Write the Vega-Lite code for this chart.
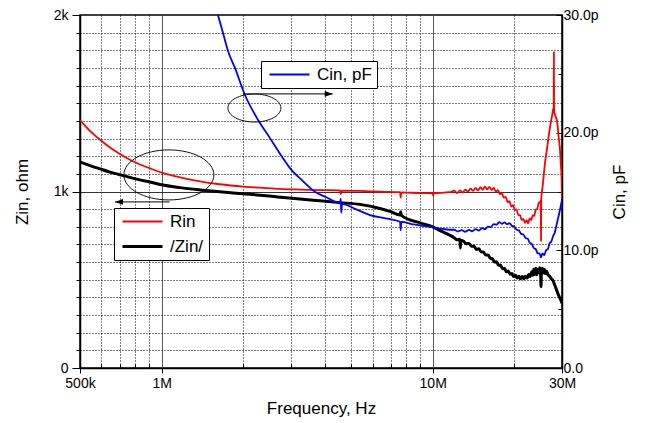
{
  "$schema": "https://vega.github.io/schema/vega-lite/v6.json",
  "width": 482,
  "height": 353,
  "autosize": {"type": "none"},
  "padding": {"left": 80, "top": 15, "right": 89, "bottom": 55},
  "background": "white",
  "config": {
    "font": "Liberation Sans",
    "view": {"stroke": "black", "strokeWidth": 1.5},
    "axis": {
      "labelFont": "Liberation Sans", "labelFontSize": 14, "labelColor": "black",
      "titleFont": "Liberation Sans", "titleFontSize": 17, "titleFontWeight": "normal", "titleColor": "black",
      "domainColor": "black", "domainWidth": 1.5, "tickColor": "black", "tickWidth": 1
    }
  },
  "datasets": {
    "z": [
      {"s": "Rin", "f": 0.5, "v": 1405}, {"s": "Rin", "f": 0.544, "v": 1344}, {"s": "Rin", "f": 0.593, "v": 1293},
      {"s": "Rin", "f": 0.645, "v": 1249}, {"s": "Rin", "f": 0.702, "v": 1212}, {"s": "Rin", "f": 0.764, "v": 1180},
      {"s": "Rin", "f": 0.832, "v": 1153}, {"s": "Rin", "f": 0.906, "v": 1131}, {"s": "Rin", "f": 1.0, "v": 1107},
      {"s": "Rin", "f": 1.17, "v": 1080}, {"s": "Rin", "f": 1.385, "v": 1058}, {"s": "Rin", "f": 1.64, "v": 1041},
      {"s": "Rin", "f": 2.0, "v": 1028}, {"s": "Rin", "f": 2.31, "v": 1022}, {"s": "Rin", "f": 2.73, "v": 1015},
      {"s": "Rin", "f": 3.24, "v": 1011}, {"s": "Rin", "f": 3.84, "v": 1008}, {"s": "Rin", "f": 4.55, "v": 1006},
      {"s": "Rin", "f": 4.58, "v": 985}, {"s": "Rin", "f": 4.62, "v": 1005}, {"s": "Rin", "f": 5.39, "v": 1003},
      {"s": "Rin", "f": 6.39, "v": 999}, {"s": "Rin", "f": 7.58, "v": 996}, {"s": "Rin", "f": 7.62, "v": 965},
      {"s": "Rin", "f": 7.66, "v": 995}, {"s": "Rin", "f": 8.98, "v": 991}, {"s": "Rin", "f": 10.0, "v": 990},
      {"s": "Rin", "f": 10.05, "v": 976}, {"s": "Rin", "f": 10.1, "v": 991}, {"s": "Rin", "f": 10.64, "v": 992},
      {"s": "Rin", "f": 11.58, "v": 996},
      {"s": "Rin", "f": 12.0, "v": 1005}, {"s": "Rin", "f": 12.3, "v": 991}, {"s": "Rin", "f": 12.6, "v": 1006},
      {"s": "Rin", "f": 12.9, "v": 994}, {"s": "Rin", "f": 13.2, "v": 1011}, {"s": "Rin", "f": 13.5, "v": 1000},
      {"s": "Rin", "f": 13.8, "v": 1016}, {"s": "Rin", "f": 14.1, "v": 1004}, {"s": "Rin", "f": 14.4, "v": 1020},
      {"s": "Rin", "f": 14.7, "v": 1006}, {"s": "Rin", "f": 15.0, "v": 1024}, {"s": "Rin", "f": 15.3, "v": 1010},
      {"s": "Rin", "f": 15.6, "v": 1028}, {"s": "Rin", "f": 15.9, "v": 1012}, {"s": "Rin", "f": 16.2, "v": 1026},
      {"s": "Rin", "f": 16.5, "v": 1008}, {"s": "Rin", "f": 16.8, "v": 1020}, {"s": "Rin", "f": 17.1, "v": 1000},
      {"s": "Rin", "f": 17.4, "v": 1008}, {"s": "Rin", "f": 17.7, "v": 985}, {"s": "Rin", "f": 18.0, "v": 990},
      {"s": "Rin", "f": 18.3, "v": 965}, {"s": "Rin", "f": 18.6, "v": 970}, {"s": "Rin", "f": 18.9, "v": 940},
      {"s": "Rin", "f": 19.2, "v": 945}, {"s": "Rin", "f": 19.5, "v": 915}, {"s": "Rin", "f": 19.8, "v": 922},
      {"s": "Rin", "f": 20.1, "v": 895}, {"s": "Rin", "f": 20.4, "v": 898}, {"s": "Rin", "f": 20.7, "v": 866},
      {"s": "Rin", "f": 21.0, "v": 866}, {"s": "Rin", "f": 21.3, "v": 838}, {"s": "Rin", "f": 21.6, "v": 845},
      {"s": "Rin", "f": 21.9, "v": 822}, {"s": "Rin", "f": 22.2, "v": 838}, {"s": "Rin", "f": 22.5, "v": 820},
      {"s": "Rin", "f": 22.8, "v": 848}, {"s": "Rin", "f": 23.1, "v": 838}, {"s": "Rin", "f": 23.4, "v": 866},
      {"s": "Rin", "f": 23.7, "v": 862}, {"s": "Rin", "f": 24.0, "v": 898}, {"s": "Rin", "f": 24.3, "v": 900},
      {"s": "Rin", "f": 24.6, "v": 935}, {"s": "Rin", "f": 24.9, "v": 940}, {"s": "Rin", "f": 25.05, "v": 948},
      {"s": "Rin", "f": 25.1, "v": 720}, {"s": "Rin", "f": 25.15, "v": 955}, {"s": "Rin", "f": 25.5, "v": 1040},
      {"s": "Rin", "f": 25.96, "v": 1160}, {"s": "Rin", "f": 26.4, "v": 1240}, {"s": "Rin", "f": 27.1, "v": 1366},
      {"s": "Rin", "f": 27.5, "v": 1420}, {"s": "Rin", "f": 27.8, "v": 1462}, {"s": "Rin", "f": 27.95, "v": 1475},
      {"s": "Rin", "f": 28.0, "v": 1790}, {"s": "Rin", "f": 28.05, "v": 1455}, {"s": "Rin", "f": 28.5, "v": 1420},
      {"s": "Rin", "f": 28.75, "v": 1400}, {"s": "Rin", "f": 29.2, "v": 1300}, {"s": "Rin", "f": 29.5, "v": 1235},
      {"s": "Rin", "f": 29.7, "v": 1150}, {"s": "Rin", "f": 29.9, "v": 1080}, {"s": "Rin", "f": 30.0, "v": 960},

      {"s": "/Zin/", "f": 0.5, "v": 1167}, {"s": "/Zin/", "f": 0.544, "v": 1147}, {"s": "/Zin/", "f": 0.593, "v": 1128},
      {"s": "/Zin/", "f": 0.645, "v": 1110}, {"s": "/Zin/", "f": 0.702, "v": 1095}, {"s": "/Zin/", "f": 0.764, "v": 1080},
      {"s": "/Zin/", "f": 0.832, "v": 1066}, {"s": "/Zin/", "f": 0.906, "v": 1054}, {"s": "/Zin/", "f": 1.0, "v": 1038},
      {"s": "/Zin/", "f": 1.17, "v": 1022}, {"s": "/Zin/", "f": 1.385, "v": 1009}, {"s": "/Zin/", "f": 1.64, "v": 998},
      {"s": "/Zin/", "f": 2.0, "v": 987}, {"s": "/Zin/", "f": 2.31, "v": 979}, {"s": "/Zin/", "f": 2.73, "v": 968},
      {"s": "/Zin/", "f": 3.24, "v": 957}, {"s": "/Zin/", "f": 3.84, "v": 947}, {"s": "/Zin/", "f": 4.55, "v": 937},
      {"s": "/Zin/", "f": 5.39, "v": 927}, {"s": "/Zin/", "f": 6.39, "v": 904}, {"s": "/Zin/", "f": 7.0, "v": 886},
      {"s": "/Zin/", "f": 7.58, "v": 867}, {"s": "/Zin/", "f": 7.62, "v": 885}, {"s": "/Zin/", "f": 7.66, "v": 865},
      {"s": "/Zin/", "f": 8.98, "v": 822}, {"s": "/Zin/", "f": 10.0, "v": 800}, {"s": "/Zin/", "f": 10.64, "v": 778},
      {"s": "/Zin/", "f": 11.58, "v": 752},
      {"s": "/Zin/", "f": 12.0, "v": 738}, {"s": "/Zin/", "f": 12.3, "v": 726}, {"s": "/Zin/", "f": 12.6, "v": 730},
      {"s": "/Zin/", "f": 12.65, "v": 680}, {"s": "/Zin/", "f": 12.7, "v": 724}, {"s": "/Zin/", "f": 13.0, "v": 718},
      {"s": "/Zin/", "f": 13.3, "v": 704}, {"s": "/Zin/", "f": 13.6, "v": 706}, {"s": "/Zin/", "f": 13.9, "v": 690},
      {"s": "/Zin/", "f": 14.2, "v": 690}, {"s": "/Zin/", "f": 14.5, "v": 672}, {"s": "/Zin/", "f": 14.8, "v": 675},
      {"s": "/Zin/", "f": 15.1, "v": 658}, {"s": "/Zin/", "f": 15.4, "v": 656}, {"s": "/Zin/", "f": 15.7, "v": 640},
      {"s": "/Zin/", "f": 16.0, "v": 640}, {"s": "/Zin/", "f": 16.3, "v": 622}, {"s": "/Zin/", "f": 16.6, "v": 620},
      {"s": "/Zin/", "f": 16.9, "v": 600}, {"s": "/Zin/", "f": 17.2, "v": 602}, {"s": "/Zin/", "f": 17.5, "v": 582},
      {"s": "/Zin/", "f": 17.8, "v": 584}, {"s": "/Zin/", "f": 18.1, "v": 562}, {"s": "/Zin/", "f": 18.4, "v": 565},
      {"s": "/Zin/", "f": 18.7, "v": 545}, {"s": "/Zin/", "f": 19.0, "v": 550}, {"s": "/Zin/", "f": 19.3, "v": 532},
      {"s": "/Zin/", "f": 19.6, "v": 535}, {"s": "/Zin/", "f": 19.9, "v": 518}, {"s": "/Zin/", "f": 20.2, "v": 525},
      {"s": "/Zin/", "f": 20.5, "v": 510}, {"s": "/Zin/", "f": 20.8, "v": 520}, {"s": "/Zin/", "f": 21.1, "v": 505},
      {"s": "/Zin/", "f": 21.4, "v": 518}, {"s": "/Zin/", "f": 21.7, "v": 505}, {"s": "/Zin/", "f": 22.0, "v": 520},
      {"s": "/Zin/", "f": 22.3, "v": 510}, {"s": "/Zin/", "f": 22.6, "v": 530}, {"s": "/Zin/", "f": 22.9, "v": 518},
      {"s": "/Zin/", "f": 23.2, "v": 545}, {"s": "/Zin/", "f": 23.4, "v": 525}, {"s": "/Zin/", "f": 23.6, "v": 560},
      {"s": "/Zin/", "f": 23.8, "v": 530}, {"s": "/Zin/", "f": 24.0, "v": 565}, {"s": "/Zin/", "f": 24.2, "v": 528},
      {"s": "/Zin/", "f": 24.4, "v": 560}, {"s": "/Zin/", "f": 24.6, "v": 540}, {"s": "/Zin/", "f": 24.8, "v": 568},
      {"s": "/Zin/", "f": 25.0, "v": 545}, {"s": "/Zin/", "f": 25.1, "v": 461}, {"s": "/Zin/", "f": 25.2, "v": 550},
      {"s": "/Zin/", "f": 25.4, "v": 565}, {"s": "/Zin/", "f": 25.6, "v": 540}, {"s": "/Zin/", "f": 25.8, "v": 560},
      {"s": "/Zin/", "f": 26.0, "v": 535}, {"s": "/Zin/", "f": 26.3, "v": 550}, {"s": "/Zin/", "f": 26.6, "v": 530},
      {"s": "/Zin/", "f": 27.0, "v": 520}, {"s": "/Zin/", "f": 27.4, "v": 505}, {"s": "/Zin/", "f": 27.8, "v": 495},
      {"s": "/Zin/", "f": 28.2, "v": 470}, {"s": "/Zin/", "f": 28.6, "v": 445}, {"s": "/Zin/", "f": 29.0, "v": 420},
      {"s": "/Zin/", "f": 29.5, "v": 395}, {"s": "/Zin/", "f": 30.0, "v": 367}
    ],
    "c": [
      {"s": "Cin, pF", "f": 1.614, "c": 30}, {"s": "Cin, pF", "f": 1.685, "c": 28.47}, {"s": "Cin, pF", "f": 1.758, "c": 26.94},
      {"s": "Cin, pF", "f": 1.865, "c": 25.5}, {"s": "Cin, pF", "f": 2.03, "c": 23.2}, {"s": "Cin, pF", "f": 2.27, "c": 21.08},
      {"s": "Cin, pF", "f": 2.5, "c": 19.6}, {"s": "Cin, pF", "f": 2.8, "c": 17.85}, {"s": "Cin, pF", "f": 2.98, "c": 16.97},
      {"s": "Cin, pF", "f": 3.3, "c": 15.95}, {"s": "Cin, pF", "f": 3.68, "c": 14.98}, {"s": "Cin, pF", "f": 4.1, "c": 14.45},
      {"s": "Cin, pF", "f": 4.55, "c": 14.0}, {"s": "Cin, pF", "f": 4.58, "c": 14.4}, {"s": "Cin, pF", "f": 4.6, "c": 13.2},
      {"s": "Cin, pF", "f": 4.63, "c": 13.95}, {"s": "Cin, pF", "f": 5.2, "c": 13.5}, {"s": "Cin, pF", "f": 5.87, "c": 13.0},
      {"s": "Cin, pF", "f": 6.8, "c": 12.7}, {"s": "Cin, pF", "f": 7.58, "c": 12.43}, {"s": "Cin, pF", "f": 7.62, "c": 11.7},
      {"s": "Cin, pF", "f": 7.66, "c": 12.42}, {"s": "Cin, pF", "f": 8.5, "c": 12.2}, {"s": "Cin, pF", "f": 9.77, "c": 12.0},
      {"s": "Cin, pF", "f": 10.64, "c": 11.85}, {"s": "Cin, pF", "f": 11.58, "c": 11.75},
      {"s": "Cin, pF", "f": 12.0, "c": 11.75}, {"s": "Cin, pF", "f": 12.4, "c": 11.6}, {"s": "Cin, pF", "f": 12.8, "c": 11.72},
      {"s": "Cin, pF", "f": 13.2, "c": 11.58}, {"s": "Cin, pF", "f": 13.6, "c": 11.74}, {"s": "Cin, pF", "f": 14.0, "c": 11.62},
      {"s": "Cin, pF", "f": 14.4, "c": 11.8}, {"s": "Cin, pF", "f": 14.8, "c": 11.68}, {"s": "Cin, pF", "f": 15.2, "c": 11.88},
      {"s": "Cin, pF", "f": 15.6, "c": 11.8}, {"s": "Cin, pF", "f": 16.0, "c": 12.02}, {"s": "Cin, pF", "f": 16.4, "c": 11.98},
      {"s": "Cin, pF", "f": 16.8, "c": 12.22}, {"s": "Cin, pF", "f": 17.2, "c": 12.18}, {"s": "Cin, pF", "f": 17.6, "c": 12.4},
      {"s": "Cin, pF", "f": 18.0, "c": 12.25}, {"s": "Cin, pF", "f": 18.4, "c": 12.38}, {"s": "Cin, pF", "f": 18.8, "c": 12.22},
      {"s": "Cin, pF", "f": 19.2, "c": 12.3}, {"s": "Cin, pF", "f": 19.6, "c": 12.08}, {"s": "Cin, pF", "f": 20.0, "c": 12.02},
      {"s": "Cin, pF", "f": 20.4, "c": 11.75}, {"s": "Cin, pF", "f": 20.8, "c": 11.7}, {"s": "Cin, pF", "f": 21.2, "c": 11.4},
      {"s": "Cin, pF", "f": 21.6, "c": 11.35}, {"s": "Cin, pF", "f": 22.0, "c": 11.05}, {"s": "Cin, pF", "f": 22.4, "c": 11.0},
      {"s": "Cin, pF", "f": 22.8, "c": 10.65}, {"s": "Cin, pF", "f": 23.2, "c": 10.55}, {"s": "Cin, pF", "f": 23.6, "c": 10.2},
      {"s": "Cin, pF", "f": 24.0, "c": 10.1}, {"s": "Cin, pF", "f": 24.4, "c": 9.75}, {"s": "Cin, pF", "f": 24.8, "c": 9.75},
      {"s": "Cin, pF", "f": 25.1, "c": 9.4}, {"s": "Cin, pF", "f": 25.4, "c": 9.75}, {"s": "Cin, pF", "f": 25.8, "c": 9.6},
      {"s": "Cin, pF", "f": 26.2, "c": 10.0}, {"s": "Cin, pF", "f": 26.6, "c": 10.1}, {"s": "Cin, pF", "f": 27.0, "c": 10.6},
      {"s": "Cin, pF", "f": 27.4, "c": 10.75}, {"s": "Cin, pF", "f": 27.8, "c": 11.2}, {"s": "Cin, pF", "f": 28.2, "c": 11.5},
      {"s": "Cin, pF", "f": 28.6, "c": 12.1}, {"s": "Cin, pF", "f": 29.0, "c": 12.7}, {"s": "Cin, pF", "f": 29.4, "c": 13.3},
      {"s": "Cin, pF", "f": 29.7, "c": 13.8}, {"s": "Cin, pF", "f": 30.0, "c": 14.3}
    ],
    "arrows": [
      {"f1": 2.0, "f2": 4.28, "v": 1553, "dir": "r"},
      {"f1": 1.07, "f2": 0.673, "v": 941, "dir": "l"}
    ],
    "ell1": [{"f": 1.064, "v": 1094}],
    "ell2": [{"f": 2.2, "v": 1473}]
  },
  "layer": [
    {
      "data": {"name": "z"},
      "mark": {"type": "line", "clip": true, "strokeJoin": "round", "interpolate": "monotone"},
      "encoding": {
        "x": {
          "field": "f", "type": "quantitative",
          "scale": {"type": "log", "domain": [0.5, 30], "nice": false},
          "axis": {
            "title": "Frequency, Hz",
            "values": [0.5, 0.6, 0.7, 0.8, 0.9, 1, 2, 3, 4, 5, 6, 7, 8, 9, 10, 20, 30],
            "labelExpr": "datum.value==0.5?'500k':datum.value==1?'1M':datum.value==10?'10M':datum.value==30?'30M':''",
            "labelFlush": false, "labelOverlap": false, "labelPadding": 3, "titlePadding": 10,
            "grid": true,
            "gridDash": {"condition": {"test": "datum.value==1||datum.value==10", "value": []}, "value": [1, 2]},
            "gridColor": {"condition": {"test": "datum.value==1||datum.value==10", "value": "#5a5a5a"}, "value": "black"},
            "gridOpacity": {"condition": {"test": "datum.value==0.5||datum.value==30", "value": 0}, "value": 1},
            "tickSize": {"condition": {"test": "datum.value==0.5||datum.value==1||datum.value==10||datum.value==30", "value": 5}, "value": -4}
          }
        },
        "y": {
          "field": "v", "type": "quantitative",
          "scale": {"domain": [0, 2000], "nice": false},
          "axis": {
            "title": "Zin, ohm",
            "values": [0, 100, 200, 300, 400, 500, 600, 700, 800, 900, 1000, 1100, 1200, 1300, 1400, 1500, 1600, 1700, 1800, 1900, 2000],
            "labelExpr": "datum.value==0?'0':datum.value==1000?'1k':datum.value==2000?'2k':''",
            "labelFlush": false, "labelOverlap": false, "labelPadding": 4, "titlePadding": 22,
            "grid": true,
            "gridDash": {"condition": {"test": "datum.value==1000", "value": []}, "value": [1, 2]},
            "gridColor": {"condition": {"test": "datum.value==1000", "value": "#333333"}, "value": "black"},
            "gridOpacity": {"condition": {"test": "datum.value==0||datum.value==2000", "value": 0}, "value": 1},
            "tickSize": {"condition": {"test": "datum.value%1000==0", "value": 8}, "value": 4}
          }
        },
        "color": {
          "field": "s", "type": "nominal",
          "scale": {"domain": ["Rin", "/Zin/"], "range": ["#ff0000", "#000000"]},
          "legend": {"orient": "none", "legendX": 34, "legendY": 193, "title": null, "symbolType": "M-1,0H7", "symbolSize": 100, "symbolFillColor": "transparent", "labelFontSize": 17, "labelFont": "Liberation Sans", "labelColor": "black", "labelOffset": 34, "strokeColor": "black", "fillColor": "white", "padding": 5, "rowPadding": 7}
        },
        "strokeWidth": {
          "field": "s", "type": "nominal",
          "scale": {"domain": ["Rin", "/Zin/"], "range": [1.8, 3]},
          "legend": {"orient": "none", "legendX": 34, "legendY": 193, "title": null, "symbolType": "M-1,0H7", "symbolSize": 100, "symbolFillColor": "transparent", "labelFontSize": 17, "labelFont": "Liberation Sans", "labelColor": "black", "labelOffset": 34, "strokeColor": "black", "fillColor": "white", "padding": 5, "rowPadding": 7}
        }
      }
    },
    {
      "data": {"name": "c"},
      "mark": {"type": "line", "clip": true, "strokeWidth": 1.8, "strokeJoin": "round", "interpolate": "monotone"},
      "encoding": {
        "x": {"field": "f", "type": "quantitative", "scale": {"type": "log", "domain": [0.5, 30], "nice": false}},
        "y": {
          "field": "c", "type": "quantitative",
          "scale": {"domain": [0, 30], "nice": false},
          "axis": {
            "orient": "right", "title": "Cin, pF", "titleAngle": -90, "titleBaseline": "top",
            "values": [0, 5, 10, 15, 20, 25, 30],
            "labelExpr": "datum.value==0?'0.0':datum.value%10==0?format(datum.value,'.1f')+'p':''",
            "labelFlush": false, "labelOverlap": false, "labelPadding": 7, "titlePadding": 13,
            "grid": false,
            "tickSize": {"condition": {"test": "datum.value%10==0", "value": -6}, "value": -4}
          }
        },
        "stroke": {
          "field": "s", "type": "nominal",
          "scale": {"domain": ["Cin, pF"], "range": ["#0000ff"]},
          "legend": {"orient": "none", "legendX": 181, "legendY": 46, "title": null, "symbolType": "M-1,0H7", "symbolSize": 100, "symbolFillColor": "transparent", "symbolStrokeWidth": 1.8, "labelFontSize": 17, "labelFont": "Liberation Sans", "labelColor": "black", "labelOffset": 34, "strokeColor": "black", "fillColor": "white", "padding": 5}
        }
      }
    },
    {
      "data": {"name": "arrows"},
      "mark": {"type": "rule", "color": "black", "strokeWidth": 1},
      "encoding": {
        "x": {"field": "f1", "type": "quantitative", "scale": {"type": "log", "domain": [0.5, 30], "nice": false}},
        "x2": {"field": "f2"},
        "y": {"field": "v", "type": "quantitative", "scale": {"domain": [0, 2000], "nice": false}, "axis": null}
      }
    },
    {
      "data": {"name": "arrows"},
      "mark": {"type": "point", "filled": true, "color": "black", "size": 64, "opacity": 1},
      "encoding": {
        "x": {"field": "f2", "type": "quantitative", "scale": {"type": "log", "domain": [0.5, 30], "nice": false}},
        "y": {"field": "v", "type": "quantitative", "scale": {"domain": [0, 2000], "nice": false}, "axis": null},
        "shape": {"field": "dir", "type": "nominal", "scale": {"domain": ["r", "l"], "range": ["M0,0L-2,-0.7L-2,0.7Z", "M0,0L2,-0.7L2,0.7Z"]}, "legend": null}
      }
    },
    {
      "data": {"name": "ell1"},
      "mark": {"type": "point", "filled": false, "stroke": "#111111", "strokeWidth": 1, "opacity": 1, "size": 8100,
        "shape": "M-1,0C-1,-0.307,-0.552,-0.556,0,-0.556C0.552,-0.556,1,-0.307,1,0C1,0.307,0.552,0.556,0,0.556C-0.552,0.556,-1,0.307,-1,0Z"},
      "encoding": {
        "x": {"field": "f", "type": "quantitative", "scale": {"type": "log", "domain": [0.5, 30], "nice": false}},
        "y": {"field": "v", "type": "quantitative", "scale": {"domain": [0, 2000], "nice": false}, "axis": null}
      }
    },
    {
      "data": {"name": "ell2"},
      "mark": {"type": "point", "filled": false, "stroke": "#111111", "strokeWidth": 1, "opacity": 1, "size": 2809,
        "shape": "M-1,0C-1,-0.292,-0.552,-0.528,0,-0.528C0.552,-0.528,1,-0.292,1,0C1,0.292,0.552,0.528,0,0.528C-0.552,0.528,-1,0.292,-1,0Z"},
      "encoding": {
        "x": {"field": "f", "type": "quantitative", "scale": {"type": "log", "domain": [0.5, 30], "nice": false}},
        "y": {"field": "v", "type": "quantitative", "scale": {"domain": [0, 2000], "nice": false}, "axis": null}
      }
    }
  ],
  "resolve": {"scale": {"y": "independent", "color": "independent", "stroke": "independent", "strokeWidth": "independent", "shape": "independent"}}
}
